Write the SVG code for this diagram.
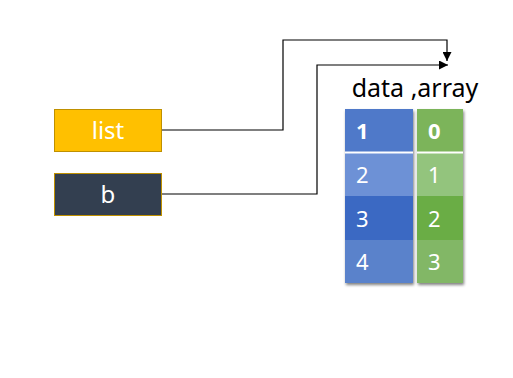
<svg xmlns="http://www.w3.org/2000/svg" width="513" height="378" viewBox="0 0 513 378">
<style>
.lbl{font-family:"Noto Sans","Open Sans","DejaVu Sans",sans-serif;fill:#fff;font-size:24px}
.num{font-family:"Noto Sans","Open Sans","DejaVu Sans",sans-serif;fill:#fff;font-size:22px}
.b{font-weight:bold}
.conn{fill:none;stroke:#000;stroke-width:1.2}
</style>
<defs>
<marker id="ah" viewBox="0 0 10 10" refX="10" refY="5" markerWidth="9" markerHeight="9" markerUnits="userSpaceOnUse" orient="auto"><path d="M0,0 L10,5 L0,10 z" fill="#000"/></marker>
<filter id="sh" x="-20%" y="-10%" width="140%" height="120%"><feGaussianBlur in="SourceAlpha" stdDeviation="1.5"/><feOffset dx="1" dy="2"/><feComponentTransfer><feFuncA type="linear" slope="0.5"/></feComponentTransfer><feMerge><feMergeNode/><feMergeNode in="SourceGraphic"/></feMerge></filter>
</defs>
<g id="connectors">
<path class="conn" d="M161,130 H283 V40 H447 V61" marker-end="url(#ah)"/>
<path class="conn" d="M161,194 H317 V65 H448" marker-end="url(#ah)"/>
</g>
<g id="node-list">
<rect x="54.5" y="109.5" width="107" height="42" fill="#FFC000" stroke="#BF9000"/>
<text class="lbl" x="108" y="139" text-anchor="middle">list</text>
</g>
<g id="node-b">
<rect x="54.5" y="173.5" width="107" height="42" fill="#333F50" stroke="#BF9000"/>
<text class="lbl" x="108" y="203" text-anchor="middle">b</text>
</g>
<g id="node-data">
<text x="415" y="97" text-anchor="middle" font-family="Noto Sans,Open Sans,sans-serif" font-size="25" fill="#000">data ,array</text>
<g filter="url(#sh)">
<rect x="345" y="109" width="68" height="44" fill="#5079C9"/>
<rect x="345" y="153" width="68" height="43" fill="#6D91D6"/>
<rect x="345" y="196" width="68" height="44" fill="#3A69C3"/>
<rect x="345" y="240" width="68" height="43" fill="#5A82CB"/>
</g>
<g filter="url(#sh)">
<rect x="417" y="109" width="46" height="44" fill="#7CB45A"/>
<rect x="417" y="153" width="46" height="43" fill="#93C47D"/>
<rect x="417" y="196" width="46" height="44" fill="#6AAD44"/>
<rect x="417" y="240" width="46" height="43" fill="#82B766"/>
</g>
<line x1="345" y1="152.5" x2="413" y2="152.5" stroke="#fff" stroke-width="2"/>
<line x1="417" y1="152.5" x2="463" y2="152.5" stroke="#fff" stroke-width="2"/>
<text class="num b" x="356" y="139">1</text>
<text class="num" x="356" y="183">2</text>
<text class="num" x="356" y="227">3</text>
<text class="num" x="356" y="270">4</text>
<text class="num b" x="428" y="139">0</text>
<text class="num" x="428" y="183">1</text>
<text class="num" x="428" y="227">2</text>
<text class="num" x="428" y="270">3</text>
</g>
</svg>
